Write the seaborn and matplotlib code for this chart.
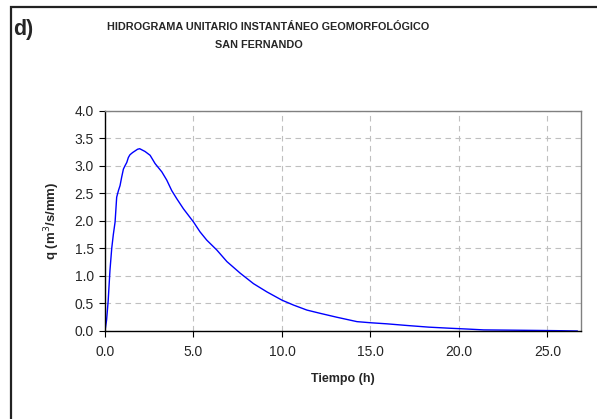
import matplotlib
matplotlib.use("Agg")
import matplotlib.pyplot as plt
import matplotlib.patches as mpatches
import seaborn as sns
import pandas as pd

# Instantaneous geomorphological unit hydrograph, San Fernando basin
tiempo_h = [0.0, 0.09, 0.18, 0.28, 0.38, 0.47, 0.57, 0.66, 0.76, 0.85, 0.94,
            1.04, 1.13, 1.23, 1.32, 1.41, 1.56, 1.70, 1.84, 1.96, 2.26, 2.55,
            2.83, 3.21, 3.49, 3.77, 4.06, 4.43, 5.00, 5.37, 5.75, 6.32, 6.89,
            7.64, 8.39, 9.15, 10.0, 10.66, 11.41, 12.17, 13.1, 14.24, 15.0,
            15.94, 17.07, 18.3, 19.5, 20.5, 21.4, 23.0, 24.5, 25.8, 26.7]
caudal_q = [0.0, 0.20, 0.55, 1.10, 1.50, 1.75, 1.98, 2.43, 2.55, 2.64, 2.79,
            2.94, 3.00, 3.06, 3.15, 3.20, 3.24, 3.27, 3.30, 3.31, 3.26, 3.19,
            3.04, 2.89, 2.74, 2.55, 2.40, 2.22, 1.98, 1.80, 1.65, 1.47, 1.26,
            1.05, 0.86, 0.71, 0.56, 0.47, 0.38, 0.32, 0.25, 0.17, 0.15,
            0.13, 0.10, 0.07, 0.05, 0.035, 0.02, 0.015, 0.01, 0.005, 0.0]

x_ticks = [0.0, 5.0, 10.0, 15.0, 20.0, 25.0]
y_ticks = [0.0, 0.5, 1.0, 1.5, 2.0, 2.5, 3.0, 3.5, 4.0]

titulo_1 = "HIDROGRAMA UNITARIO INSTANTÁNEO GEOMORFOLÓGICO"
titulo_2 = "SAN FERNANDO"

sns.set_style("white")
plt.rcParams["font.family"] = ["Liberation Sans", "DejaVu Sans"]

df = pd.DataFrame({"t": tiempo_h, "q": caudal_q})

fig = plt.figure(figsize=(5.97, 4.19), dpi=100)
ax = fig.add_axes([105 / 597, 1 - 331 / 419, 476 / 597, 220.3 / 419])

sns.lineplot(data=df, x="t", y="q", ax=ax, color="#0000FF", linewidth=1.0,
             sort=False, estimator=None)

ax.set_xlim(0, 26.9)
ax.set_ylim(0, 4.0)
ax.set_xticks(x_ticks)
ax.set_yticks(y_ticks)
ax.set_xticklabels([f"{v:.1f}" for v in x_ticks], fontsize=10)
ax.set_yticklabels([f"{v:.1f}" for v in y_ticks], fontsize=10)
ax.tick_params(axis="both", direction="out", length=4, width=0.8,
               color="black", bottom=True, left=True)
ax.tick_params(axis="x", pad=6)
ax.tick_params(axis="y", pad=4)

ax.grid(True, color="#BFBFBF", linestyle=(0, (5, 4)), linewidth=0.8)
ax.set_axisbelow(True)

for side in ("left", "bottom"):
    ax.spines[side].set_color("black")
    ax.spines[side].set_linewidth(1.0)
for side in ("top", "right"):
    ax.spines[side].set_color("#808080")
    ax.spines[side].set_linewidth(1.0)

ax.set_xlabel("Tiempo (h)", fontsize=9, fontweight="bold", labelpad=10)
ax.set_ylabel("q (m$^3$/s/mm)", fontsize=9.5, fontweight="bold", labelpad=9)

fig.text(268 / 597, 1 - 27 / 419, titulo_1, ha="center", va="center",
         fontsize=7.8, fontweight="bold")
fig.text(259 / 597, 1 - 45 / 419, titulo_2, ha="center", va="center",
         fontsize=7.8, fontweight="bold")
fig.text(13 / 597, 1 - 29 / 419, "d)", ha="left", va="center",
         fontsize=15.5, fontweight="bold")

# outer frame of the panel
frame = mpatches.Rectangle((11 / 597, -0.05), 1.0, 1 - 7 / 419 + 0.05,
                           transform=fig.transFigure, fill=False,
                           edgecolor="#222222", linewidth=1.6, clip_on=False)
fig.patches.append(frame)

fig.savefig("out.png", dpi=100)
